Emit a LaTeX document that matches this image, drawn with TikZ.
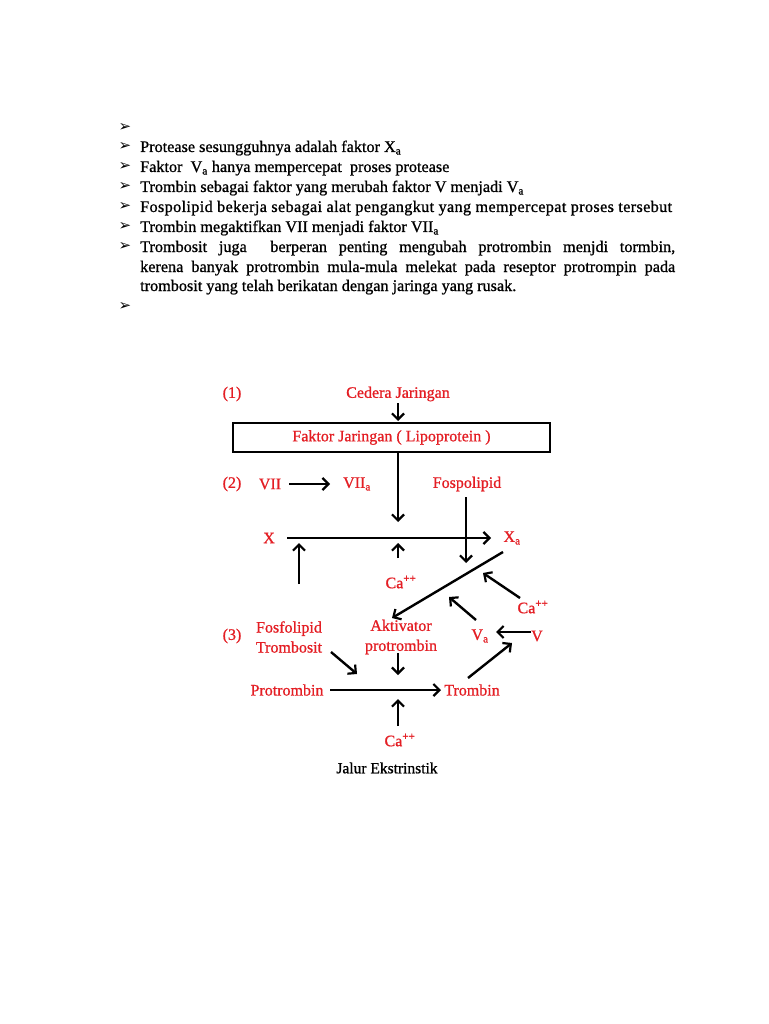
\documentclass[tikz,border=0pt]{standalone}
\usepackage{fontspec}
\setmainfont{Liberation Serif}[FakeBold=0.9]
\newfontfamily\dejavu{DejaVu Sans}
\usetikzlibrary{arrows.meta}
\definecolor{lab}{RGB}{228,30,36}
\tikzset{
  body/.style={anchor=base west, inner sep=0, font=\fontsize{16.2}{17}\selectfont},
  bul/.style={anchor=center, inner sep=0, font=\dejavu\fontsize{15}{16}\selectfont},
  lbl/.style={text=lab, inner sep=1pt, font=\fontsize{16}{20}\selectfont},
  arr/.style={line width=2.4pt, -{Straight Barb[length=6pt,width=12pt,line width=2.2pt]}},
}
\begin{document}
\begin{tikzpicture}[x=1pt,y=-1pt]
\useasboundingbox (0,0) rectangle (768,1024);
\fill[white] (0,0) rectangle (768,1024);
% bullets
\foreach \i/\yy in {b0/128,b1/147,b2/167,b3/187,b4/207,b5/227,b6/247,b7/306}
  \node[bul] (\i) at (125,\yy) {➢};
\node[body] (t1) at (140,152) {Protease sesungguhnya adalah faktor X\textsubscript{a}};
\node[body] (t2) at (140,172) {Faktor\ \ V\textsubscript{a} hanya mempercepat\ \ proses protease};
\node[body] (t3) at (140,192) {Trombin sebagai faktor yang merubah faktor V menjadi V\textsubscript{a}};
\node[body] (t4) at (140,212) {\addfontfeature{LetterSpace=2.2}Fospolipid bekerja sebagai alat pengangkut yang mempercepat proses tersebut};
\node[body] (t5) at (140,232) {Trombin megaktifkan VII menjadi faktor VII\textsubscript{a}};
\node[body] (t6) at (140,252) {\makebox[535pt][s]{Trombosit juga\ \ berperan penting mengubah protrombin menjdi tormbin,}};
\node[body] (t7) at (140,272) {\makebox[535pt][s]{kerena banyak protrombin mula-mula melekat pada reseptor protrompin pada}};
\node[body] (t8) at (140,291) {trombosit yang telah berikatan dengan jaringa yang rusak.};

% diagram labels
\node[lbl] (n1) at (232,394) {(1)};
\node[lbl] (ced) at (398,394) {Cedera Jaringan};
\node[draw=black, line width=2.4pt, minimum width=317pt, minimum height=29pt, lbl, inner sep=0] (box) at (391.5,437.5) {Faktor Jaringan ( Lipoprotein )};
\node[lbl] (n2) at (232,484) {(2)};
\node[lbl] (vii) at (270,484) {VII};
\node[lbl] (viia) at (357,484) {VII\textsubscript{a}};
\node[lbl] (fosp) at (467,484) {Fospolipid};
\node[lbl] (x) at (269,538) {X};
\node[lbl] (xa) at (512,538) {X\textsubscript{a}};
\node[lbl] (ca1) at (401,582) {Ca\textsuperscript{++}};
\node[lbl] (ca2) at (533,607) {Ca\textsuperscript{++}};
\node[lbl] (n3) at (232,636) {(3)};
\node[lbl, align=center] (fost) at (289,637) {Fosfolipid\\Trombosit};
\node[lbl, align=center] (akt) at (401,637) {Aktivator\\protrombin};
\node[lbl] (va) at (480,636) {V\textsubscript{a}};
\node[lbl] (v) at (537,636) {V};
\node[lbl] (pro) at (287,690) {Protrombin};
\node[lbl] (tro) at (472,690) {Trombin};
\node[lbl] (ca3) at (400,740) {Ca\textsuperscript{++}};
\node[inner sep=0, font=\fontsize{15.5}{16}\selectfont] (jal) at (387,768) {Jalur Ekstrinstik};

% coordinates
\coordinate (c0) at (398,403);
\coordinate (c1) at (398,421);
\coordinate (c2) at (398,522);
\coordinate (v1) at (289,484);
\coordinate (v2) at (330,484);
\coordinate (fs) at (466,497);
\coordinate (fe) at (466,563);
\coordinate (xs) at (287,538);
\coordinate (xe) at (491,538);
\coordinate (u1s) at (299,584);
\coordinate (u1e) at (299,543);
\coordinate (u2s) at (398,558);
\coordinate (u2e) at (398,543);
\coordinate (d1s) at (503,552);
\coordinate (d1e) at (392,618);
\coordinate (a1s) at (520,598);
\coordinate (a1e) at (483,573);
\coordinate (a2s) at (476,620);
\coordinate (a2e) at (449,597);
\coordinate (vs) at (531,632);
\coordinate (ve) at (496,632);
\coordinate (a3s) at (331,652);
\coordinate (a3e) at (357,674);
\coordinate (a4s) at (398,653);
\coordinate (a4e) at (398,675);
\coordinate (ps) at (330,690);
\coordinate (pe) at (441,690);
\coordinate (ts) at (468,678);
\coordinate (te) at (512,643);
\coordinate (u3s) at (398,726);
\coordinate (u3e) at (398,699);

% connectors
\draw[arr] (c0) -- (c1);
\draw[arr] (box.south -| c2) -- (c2);
\draw[arr] (v1) -- (v2);
\draw[arr] (fs) -- (fe);
\draw[arr] (xs) -- (xe);
\draw[arr] (u1s) -- (u1e);
\draw[arr] (u2s) -- (u2e);
\draw[arr] (d1s) -- (d1e);
\draw[arr] (a1s) -- (a1e);
\draw[arr] (a2s) -- (a2e);
\draw[arr] (vs) -- (ve);
\draw[arr] (a3s) -- (a3e);
\draw[arr] (a4s) -- (a4e);
\draw[arr] (ps) -- (pe);
\draw[arr] (ts) -- (te);
\draw[arr] (u3s) -- (u3e);
\end{tikzpicture}
\end{document}
